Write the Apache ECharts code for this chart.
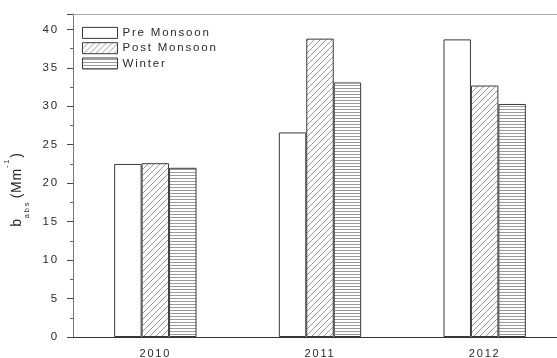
<!DOCTYPE html>
<html><head><meta charset="utf-8">
<script src="https://cdn.jsdelivr.net/npm/echarts@6/dist/echarts.min.js"></script>
<style>html,body{margin:0;padding:0;background:#fff}#c{width:557px;height:358px}</style>
</head><body><div id="c"></div>
<script>
const categories = ['2010', '2011', '2012'];
const preMonsoon = [22.5, 26.6, 38.7];
const postMonsoon = [22.6, 38.8, 32.7];
const winter = [22.0, 33.1, 30.3];
const seriesNames = ['Pre Monsoon', 'Post Monsoon', 'Winter'];
const yTicks = [0, 5, 10, 15, 20, 25, 30, 35, 40];

// widen glyph spacing of canvas text (reference text is letter-spaced)
(function () {
  const P = CanvasRenderingContext2D.prototype;
  const f = P.fillText, m = P.measureText, s = P.strokeText;
  const pick = (ctx) => (/\b1[3-9](\.\d+)?px/.test(ctx.font) ? '0.8px' : '1.8px');
  P.fillText = function () { this.letterSpacing = pick(this); return f.apply(this, arguments); };
  P.strokeText = function () { this.letterSpacing = pick(this); return s.apply(this, arguments); };
  P.measureText = function () { this.letterSpacing = pick(this); return m.apply(this, arguments); };
})();

function makePattern(kind) {
  const c = document.createElement('canvas');
  const s = kind === 'diag' ? 6 : 3;
  c.width = s; c.height = s;
  const g = c.getContext('2d');
  g.fillStyle = '#fff'; g.fillRect(0, 0, s, s);
  g.strokeStyle = '#9a9a9a'; g.lineWidth = 1;
  if (kind === 'diag') {
    g.beginPath();
    g.moveTo(-1, s + 1); g.lineTo(s + 1, -1);
    g.moveTo(-1, 1); g.lineTo(1, -1);
    g.moveTo(s - 1, s + 1); g.lineTo(s + 1, s - 1);
    g.stroke();
  } else {
    g.beginPath(); g.moveTo(0, 1.5); g.lineTo(s, 1.5); g.stroke();
  }
  return { image: c, repeat: 'repeat' };
}
const diag = makePattern('diag');
const horiz = makePattern('horiz');

const chart = echarts.init(document.getElementById('c'));
const txt = '#2a2a2a';
const ff = 'Liberation Sans, Arial, sans-serif';
const barStyle = (fill) => ({ color: fill, borderColor: '#3a3a3a', borderWidth: 1 });

chart.setOption({
  animation: false,
  backgroundColor: '#fff',
  grid: { left: 73, top: 14, bottom: 21, right: -10, containLabel: false, outerBoundsMode: 'none' },
  legend: {
    left: 82, top: 26, orient: 'vertical', padding: 0,
    icon: 'rect',
    itemWidth: 35, itemHeight: 11, itemGap: 1.5,
    itemStyle: { borderWidth: 1, borderColor: '#3a3a3a' },
    textStyle: { fontFamily: ff, fontSize: 11.5, color: txt },
    data: seriesNames
  },
  xAxis: [
    { type: 'category', data: categories, position: 'bottom',
      axisLine: { lineStyle: { color: '#333', width: 1.2 } },
      axisTick: { alignWithLabel: true, length: 5, lineStyle: { color: '#333' } },
      axisLabel: { color: txt, fontFamily: ff, fontSize: 11, margin: 11 } },
    { type: 'category', data: categories, position: 'bottom',
      axisLine: { show: false }, axisTick: { length: 2, lineStyle: { color: '#555' } }, axisLabel: { show: false } },
    { type: 'category', data: categories, position: 'top',
      axisLine: { lineStyle: { color: '#aaa', width: 1.2 } },
      axisTick: { alignWithLabel: true, inside: true, length: 5, lineStyle: { color: '#444', width: 1.2 } },
      axisLabel: { show: false } },
    { type: 'category', data: categories, position: 'top',
      axisLine: { show: false }, axisTick: { inside: true, length: 2, lineStyle: { color: '#666' } }, axisLabel: { show: false } }
  ],
  yAxis: {
    type: 'value', min: 0, max: 42, interval: 5,
    axisLine: { show: true, lineStyle: { color: '#777', width: 1 } },
    axisTick: { show: true, length: 6, lineStyle: { color: '#444' } },
    minorTick: { show: true, splitNumber: 2, length: 3, lineStyle: { color: '#666' } },
    splitLine: { show: false },
    axisLabel: { color: txt, fontFamily: ff, fontSize: 11.5, margin: 14,
      formatter: v => (yTicks.indexOf(v) >= 0 ? String(v) : '') },
    name: '{b|b}{sub|abs}{sp| }{b|(Mm}{sup|-1}{b|)}',
    nameLocation: 'middle', nameRotate: 90, nameGap: 35,
    nameTextStyle: {
      rich: {
        b: { fontFamily: ff, fontSize: 14, color: txt, verticalAlign: 'middle', lineHeight: 30 },
        sp: { fontFamily: ff, fontSize: 2, color: txt, verticalAlign: 'middle', lineHeight: 10 },
        sub: { fontFamily: ff, fontSize: 7.5, color: txt, verticalAlign: 'bottom', lineHeight: 12 },
        sup: { fontFamily: ff, fontSize: 7.5, color: txt, verticalAlign: 'top', lineHeight: 8 }
      },
      padding: [0, 28, 0, 0]
    }
  },
  series: [
    { name: seriesNames[0], type: 'bar', data: preMonsoon, barGap: '0%', barCategoryGap: '50%', itemStyle: barStyle('#fff') },
    { name: seriesNames[1], type: 'bar', data: postMonsoon, barGap: '0%', barCategoryGap: '50%', itemStyle: barStyle(diag) },
    { name: seriesNames[2], type: 'bar', data: winter, barGap: '0%', barCategoryGap: '50%', itemStyle: barStyle(horiz) }
  ]
});
</script></body></html>
